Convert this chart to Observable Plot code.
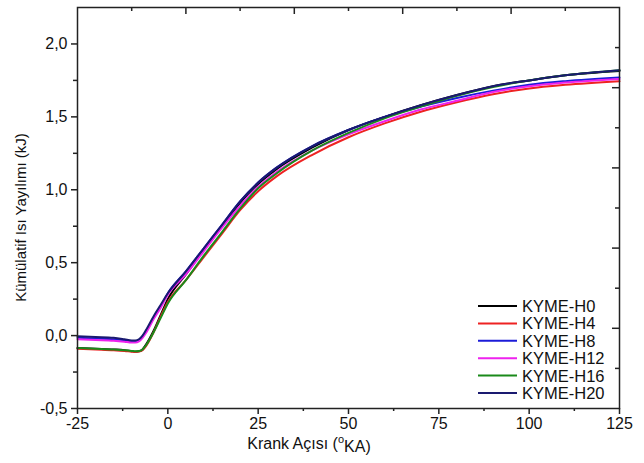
<!DOCTYPE html>
<html><head><meta charset="utf-8">
<script src="https://cdn.jsdelivr.net/npm/d3@7"></script>
<script src="https://cdn.jsdelivr.net/npm/@observablehq/plot@0.6"></script>
<style>body{margin:0;background:#fff;}</style>
</head><body><div id="chart"></div>
<script>
const FONT = "'Liberation Sans', Arial, sans-serif";

// Crank angle samples (°KA)
const crankAngle = [-25, -20, -15, -12, -10, -9, -8, -7, -6, -4, -2, 0, 5, 10, 15, 20, 25, 30, 40, 50, 60, 70, 80, 90, 100, 110, 125];

const seriesNames = ["KYME-H0", "KYME-H4", "KYME-H8", "KYME-H12", "KYME-H16", "KYME-H20"];
const seriesColors = ["#000000", "#ee2222", "#1c1cd8", "#ee22ee", "#1a8a1a", "#1a1a70"];

// Cumulative heat release (kJ)
const H0  = [-0.085, -0.09, -0.095, -0.10, -0.107, -0.11, -0.108, -0.095, -0.06, 0.03, 0.14, 0.25, 0.42, 0.59, 0.75, 0.91, 1.04, 1.14, 1.29, 1.41, 1.50, 1.58, 1.65, 1.71, 1.75, 1.785, 1.815];
const H4  = [-0.09, -0.095, -0.10, -0.105, -0.11, -0.112, -0.11, -0.10, -0.07, 0.02, 0.13, 0.23, 0.38, 0.54, 0.70, 0.86, 0.99, 1.09, 1.24, 1.36, 1.455, 1.535, 1.60, 1.655, 1.695, 1.72, 1.745];
const H8  = [-0.015, -0.02, -0.025, -0.032, -0.04, -0.04, -0.03, -0.005, 0.03, 0.12, 0.20, 0.29, 0.44, 0.60, 0.76, 0.92, 1.05, 1.15, 1.30, 1.41, 1.50, 1.57, 1.63, 1.68, 1.72, 1.745, 1.77];
const H12 = [-0.025, -0.03, -0.035, -0.042, -0.048, -0.048, -0.04, -0.015, 0.02, 0.11, 0.19, 0.28, 0.42, 0.58, 0.74, 0.89, 1.02, 1.12, 1.27, 1.38, 1.47, 1.55, 1.61, 1.67, 1.71, 1.735, 1.76];
const H16 = [-0.085, -0.09, -0.095, -0.10, -0.105, -0.108, -0.106, -0.095, -0.065, 0.02, 0.12, 0.22, 0.38, 0.55, 0.71, 0.87, 1.01, 1.11, 1.27, 1.39, 1.49, 1.57, 1.645, 1.705, 1.75, 1.785, 1.82];
const H20 = [-0.005, -0.01, -0.015, -0.025, -0.033, -0.033, -0.025, 0.0, 0.04, 0.13, 0.21, 0.29, 0.44, 0.60, 0.76, 0.92, 1.05, 1.15, 1.30, 1.41, 1.50, 1.58, 1.65, 1.71, 1.75, 1.785, 1.82];
const seriesValues = [H0, H4, H8, H12, H16, H20];

// Axis ticks
const xTicks = [-25, 0, 25, 50, 75, 100, 125];
const xMinorTicks = [-12.5, 12.5, 37.5, 62.5, 87.5, 112.5];
const yTicks = [-0.5, 0, 0.5, 1.0, 1.5, 2.0];
const yMinorTicks = [-0.25, 0.25, 0.75, 1.25, 1.75];
const topTicksLong = [5, 35, 65, 95];
const topTicksShort = [-10, 20, 50, 80, 110];
const rightTicksLong = [0.05, 0.6, 1.15, 1.7];
const rightTicksShort = [-0.225, 0.325, 0.875, 1.425, 1.975];

const yTitle = "Kümülatif Isı Yayılımı (kJ)";
const xTitleMain = "Krank Açısı (";
const xTitleSup = "o";
const xTitleEnd = "KA)";

const rows = seriesNames.flatMap((name, i) =>
  seriesValues[i].map((v, j) => ({angle: crankAngle[j], q: v, name})));

const W = 644, H = 463;
const mL = 77, mR = 25, mT = 7, mB = 55;
const pw = W - mL - mR, ph = H - mT - mB;
const AX = "#222";
const FS = 16;

function decorations(index, scales, values, dims) {
  const g = d3.create("svg:g").attr("font-family", FONT).attr("fill", "#111");
  const right = dims.width - dims.marginRight;
  const bottom = dims.height - dims.marginBottom;
  // legend
  const lg = g.append("g").attr("font-size", 16.5).attr("text-anchor", "start");
  seriesNames.forEach((name, i) => {
    const y = bottom - 15 - 17.4 * (seriesNames.length - 1 - i);
    lg.append("line").attr("x1", right - 141).attr("x2", right - 102)
      .attr("y1", y).attr("y2", y).attr("stroke", seriesColors[i]).attr("stroke-width", 2);
    lg.append("text").attr("x", right - 97).attr("y", y).attr("dy", "0.36em").text(name);
  });
  // y title
  g.append("text").attr("font-size", 15).attr("text-anchor", "middle")
    .attr("transform", `translate(26,${(dims.marginTop + bottom) / 2 + 10}) rotate(-90)`)
    .text(yTitle);
  // x title
  const xt = g.append("text").attr("font-size", FS).attr("text-anchor", "middle")
    .attr("x", 309).attr("y", bottom + 41);
  xt.append("tspan").text(xTitleMain);
  xt.append("tspan").attr("font-size", 11).attr("dy", "-0.55em").text(xTitleSup);
  xt.append("tspan").attr("dy", "0.55em").text(xTitleEnd);
  return g.node();
}

const chart = Plot.plot({
  width: W, height: H,
  marginLeft: mL, marginRight: mR, marginTop: mT, marginBottom: mB,
  style: {fontFamily: FONT, fontSize: FS + "px", color: "#111", background: "#fff"},
  x: {domain: [-25, 125]},
  y: {domain: [-0.5, 2.25]},
  marks: [
    Plot.line(rows, {x: "angle", y: "q", z: "name",
      stroke: "name", strokeWidth: 2, curve: "monotone-x"}),
    Plot.frame({stroke: AX, strokeWidth: 1.5}),
    Plot.axisX({ticks: xTicks, tickSize: 6, tickPadding: 3, stroke: AX, strokeWidth: 1.5, fontSize: FS,
      tickFormat: d => String(d), label: null}),
    Plot.axisX({ticks: xMinorTicks, tickSize: 3, stroke: AX, strokeWidth: 1.5, tickFormat: () => "", label: null}),
    Plot.axisY({ticks: yTicks, tickSize: 6, tickPadding: 4, stroke: AX, strokeWidth: 1.5, fontSize: FS,
      tickFormat: d => d.toFixed(1).replace(".", ","), label: null}),
    Plot.axisY({ticks: yMinorTicks, tickSize: 4, stroke: AX, strokeWidth: 1.5, tickFormat: () => "", label: null}),
    Plot.tickX(topTicksLong, {x: d => d, stroke: AX, strokeWidth: 1.5, insetBottom: ph - 7}),
    Plot.tickX(topTicksShort, {x: d => d, stroke: AX, strokeWidth: 1.5, insetBottom: ph - 4}),
    Plot.tickY(rightTicksLong, {y: d => d, stroke: AX, strokeWidth: 1.5, insetLeft: pw - 7}),
    Plot.tickY(rightTicksShort, {y: d => d, stroke: AX, strokeWidth: 1.5, insetLeft: pw - 4}),
    decorations
  ],
  color: {domain: seriesNames, range: seriesColors}
});
document.getElementById("chart").appendChild(chart);
</script>
</body></html>
